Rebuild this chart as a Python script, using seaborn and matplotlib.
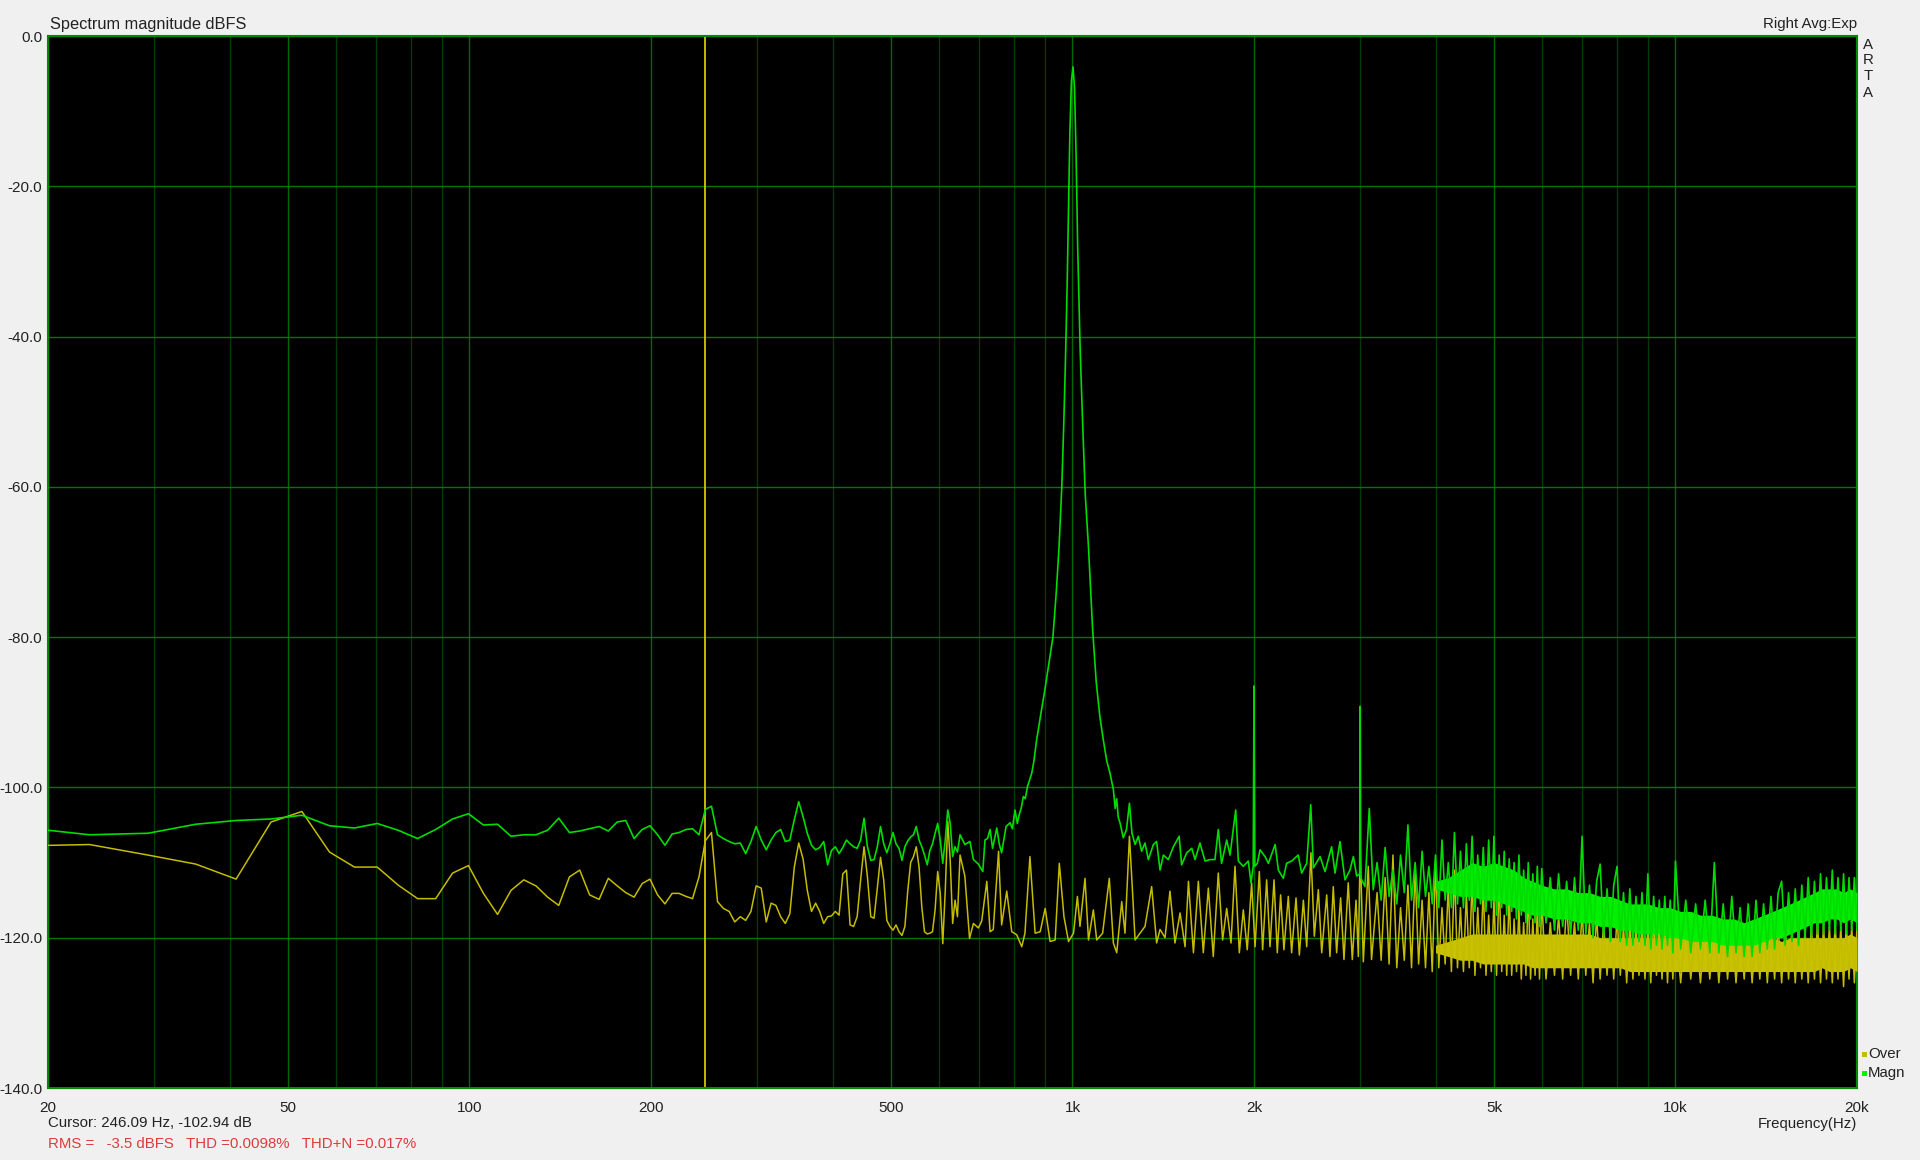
import numpy as np
import pandas as pd
import matplotlib
matplotlib.use('Agg')
import matplotlib.pyplot as plt
import seaborn as sns
from matplotlib.patches import Rectangle
from matplotlib.ticker import FixedLocator, FixedFormatter, NullFormatter

# FFT bins (48 kHz / 8192), values read per bin from 17.6 Hz to ~645 Hz
bin_hz = 48000 / 8192
first_bin = 3

magn_bins_db = [
    -105.2, -106.3, -106.1, -104.9, -104.4, -104.2, -103.7, -105.1, -105.4, -104.8,
    -105.7, -106.8, -105.6, -104.2, -103.5, -105.0, -104.9, -106.5, -106.3, -106.3,
    -105.7, -104.1, -106.0, -105.8, -105.5, -105.2, -105.8, -104.6, -104.4, -106.8,
    -105.6, -105.1, -106.3, -107.7, -106.2, -106.0, -105.6, -105.5, -106.3, -102.94,
    -102.5, -106.3, -106.8, -107.2, -107.5, -107.4, -108.8, -107.2, -105.2, -107.0,
    -108.3, -107.0, -106.0, -105.6, -107.2, -107.0, -104.3, -101.9, -103.9, -106.1,
    -107.7, -108.3, -108.0, -107.2, -110.3, -108.4, -107.9, -108.8, -108.0, -107.0,
    -107.5, -107.9, -108.1, -107.0, -104.1, -107.9, -109.7, -109.6, -107.9, -105.2,
    -107.5, -108.7, -107.5, -106.0, -107.5, -108.1, -109.7, -107.9, -107.1, -106.6,
    -106.3, -105.2, -107.0, -107.9, -109.0, -110.3, -108.4, -107.5, -106.1, -104.8,
    -107.0, -110.1, -107.0, -103.0, -104.8, -109.2, -107.9, -108.6,
]
over_bins_db = [
    -107.8, -107.6, -109.0, -110.2, -112.2, -104.6, -103.2, -108.6, -110.6, -110.6,
    -113.0, -114.8, -114.8, -111.4, -110.4, -114.1, -116.9, -113.7, -112.3, -113.1,
    -114.6, -115.7, -111.9, -111.0, -114.3, -114.9, -112.1, -113.1, -114.0, -114.6,
    -112.8, -112.2, -114.3, -115.5, -114.1, -114.1, -114.5, -114.8, -111.9, -107.1,
    -106.0, -115.2, -116.1, -116.5, -117.9, -117.2, -117.7, -116.5, -113.1, -113.4,
    -117.9, -115.4, -115.7, -117.2, -118.1, -116.8, -110.6, -107.4, -109.5, -113.7,
    -116.5, -115.4, -116.5, -118.1, -117.2, -117.1, -116.5, -117.0, -111.5, -111.0,
    -118.3, -118.5, -117.2, -112.3, -107.9, -111.9, -117.2, -117.4, -113.4, -109.3,
    -112.3, -117.7, -118.5, -119.0, -118.3, -119.2, -119.7, -118.5, -113.7, -110.0,
    -109.2, -107.9, -110.6, -115.9, -119.2, -119.5, -119.4, -119.2, -116.3, -111.2,
    -114.1, -120.8, -113.7, -104.5, -109.7, -118.1, -115.0, -117.2,
]

# Magn trace from 650 Hz to 3.2 kHz (turning points, incl. the 1 kHz tone)
magn_mid_hz = [
    651, 663, 676, 685, 698, 710, 716, 723, 730, 737, 749, 756, 763, 776, 788, 795,
    803, 810, 816, 822, 829, 835, 842, 849, 856, 863, 872, 885, 900, 914, 928, 940,
    950, 960, 967, 973, 980, 986, 990, 996, 1002, 1008, 1014, 1020, 1030, 1040, 1050,
    1063, 1080, 1095, 1110, 1125, 1140, 1154, 1169, 1177, 1184, 1191, 1199, 1214,
    1229, 1243, 1255, 1270, 1286, 1302, 1319, 1336, 1362, 1379, 1397, 1415, 1442,
    1470, 1503, 1517, 1547, 1577, 1597, 1627, 1659, 1691, 1723, 1745, 1767, 1802,
    1825, 1865, 1884, 1920, 1957, 1977, 1994, 2000, 2006, 2026, 2047, 2086, 2113,
    2168, 2195, 2237, 2265, 2309, 2368, 2399, 2446, 2484, 2509, 2574, 2623, 2690,
    2725, 2777, 2831, 2885, 2923, 2960, 2994, 3000, 3006, 3055, 3106, 3153,
]
magn_mid_db = [
    -106.3, -107.6, -107.2, -109.6, -110.2, -111.2, -107.0, -106.8, -105.6, -108.1,
    -105.4, -107.5, -108.7, -105.2, -104.7, -105.5, -103.0, -104.8, -103.6, -102.8,
    -101.2, -101.5, -99.9, -99.0, -98.1, -96.5, -93.7, -90.5, -87.0, -83.5, -80.0,
    -74.0, -68.0, -60.0, -52.0, -44.0, -33.0, -21.0, -13.0, -6.0, -4.1, -7.0, -16.0,
    -28.0, -42.0, -52.0, -61.0, -68.0, -79.0, -86.0, -90.5, -93.7, -96.5, -98.1,
    -100.3, -102.8, -101.5, -104.0, -104.7, -106.7, -105.6, -102.1, -106.1, -107.6,
    -106.5, -108.5, -107.4, -109.6, -107.6, -107.2, -111.0, -109.0, -109.6, -107.9,
    -106.5, -110.3, -108.7, -108.1, -109.6, -107.4, -109.8, -109.6, -109.6, -105.6,
    -110.1, -107.0, -109.0, -103.0, -109.8, -110.5, -109.8, -112.7, -110.5, -86.5,
    -110.5, -110.1, -108.3, -109.2, -110.1, -107.6, -111.0, -112.1, -110.1, -109.8,
    -109.0, -111.4, -110.1, -102.3, -110.7, -109.2, -111.2, -107.9, -111.4, -107.2,
    -112.3, -111.0, -109.2, -111.8, -111.5, -89.2, -112.0, -113.2, -102.8, -113.6,
]

# Over trace from 650 Hz to 3.2 kHz (comb peaks and troughs)
over_mid_hz = [
    651, 663, 675, 685, 698, 707, 721, 730, 739, 754, 763, 778, 793, 808, 824, 834,
    850, 867, 884, 901, 918, 936, 951, 968, 985, 1004, 1019, 1029, 1049, 1063, 1083,
    1097, 1122, 1151, 1169, 1184, 1207, 1222, 1243, 1256, 1270, 1294, 1319, 1353,
    1379, 1397, 1424, 1451, 1479, 1508, 1537, 1557, 1587, 1617, 1648, 1680, 1712,
    1745, 1774, 1802, 1832, 1860, 1891, 1920, 1949, 1982, 2008, 2041, 2067, 2099,
    2126, 2159, 2186, 2214, 2242, 2280, 2309, 2348, 2378, 2415, 2446, 2486, 2518,
    2557, 2590, 2640, 2673, 2707, 2742, 2784, 2820, 2866, 2911, 2953, 2979, 3000,
    3036, 3094, 3133,
]
over_mid_db = [
    -109.0, -111.8, -120.1, -118.1, -118.7, -117.8, -112.5, -119.2, -118.9, -108.5,
    -118.3, -113.8, -119.2, -119.6, -121.2, -119.4, -109.2, -119.4, -119.2, -116.1,
    -120.5, -120.3, -110.1, -117.2, -120.5, -119.4, -114.5, -118.5, -112.1, -120.3,
    -116.3, -120.3, -119.4, -112.1, -120.7, -122.0, -115.2, -119.4, -106.5, -113.0,
    -120.3, -119.4, -118.5, -113.2, -120.7, -118.9, -120.0, -113.8, -120.7, -116.7,
    -121.2, -112.5, -122.0, -112.5, -122.0, -113.4, -122.5, -111.4, -120.3, -116.1,
    -120.7, -110.5, -122.0, -116.3, -121.6, -112.7, -121.2, -111.2, -121.6, -112.3,
    -121.2, -112.3, -122.0, -114.3, -121.6, -114.5, -122.0, -114.7, -122.3, -115.0,
    -121.2, -108.7, -119.8, -113.6, -122.0, -114.3, -122.5, -113.2, -122.0, -114.7,
    -122.9, -112.7, -122.9, -115.0, -122.5, -107.9, -123.2, -110.5, -122.9,
]

# Dense part above 3.2 kHz: one value every 50 / 100 / 200 Hz
noise_hz = np.r_[np.arange(3200, 6000, 50), np.arange(6000, 10000, 100),
                 np.arange(10000, 20001, 200)]
magn_noise_db = [
    # 3200 - 5950
    -110, -115, -108, -114.5, -111, -115.5, -109, -114, -105, -115,
    -110, -116, -108.5, -114.5, -110.5, -115.5, -109, -116, -107, -115,
    -110, -116, -106, -115.5, -108.5, -116, -107.5, -115, -106.5, -116.5,
    -109, -115.5, -108, -116.5, -107, -116, -106.5, -117, -109, -116,
    -108.5, -117, -109.5, -116.5, -110, -117.5, -109, -117, -111, -118,
    -110, -117.5, -111.5, -118, -110.5, -118.5,
    # 6000 - 9900
    -110.8, -118, -112, -119, -111.5, -118.5, -112.5, -119.5, -112, -119,
    -106.5, -119.5, -113, -120, -112.5, -110.2, -120, -113.5, -120.5, -113,
    -110.5, -120.5, -114, -121, -113.5, -121, -114.5, -120.5, -114, -121,
    -111.5, -121.5, -114.5, -121, -115, -121.5, -114.5, -121, -115, -122,
    # 10000 - 20000
    -109.8, -121.5, -115, -122, -115.5, -121.5, -115, -122, -110, -122,
    -115.5, -122.5, -114.5, -122, -116, -122.5, -115.5, -122.5, -115, -122,
    -115.5, -121.5, -114.5, -121.5, -114, -112.5, -121, -114, -120.5, -113.5,
    -121, -113, -120, -112, -120, -112.5, -119.5, -111.5, -119.5, -112,
    -119, -111, -119.5, -112, -119, -111.5, -119.5, -112, -119, -112,
    -119,
]
over_noise_db = [
    # 3200 - 5950
    -114, -123, -112, -123.5, -109, -124, -116, -123, -113, -124,
    -111, -123.5, -115, -124, -114, -124.5, -110, -124, -116, -123.5,
    -113, -124.5, -111, -124, -116, -124.5, -114, -124, -112, -125,
    -116, -124, -113, -125, -117, -124.5, -115, -125, -112, -124.5,
    -117, -125, -114, -125, -117.5, -124.5, -116, -125.5, -118, -125,
    -113, -125.5, -117.5, -125, -116, -125.5,
    # 6000 - 9900
    -115, -125.5, -118, -125, -117, -125.5, -115, -125, -118, -125.5,
    -116.5, -125, -118, -126, -117, -125.5, -118, -125, -118.5, -125.5,
    -117, -125, -118.5, -126, -118, -125.5, -118.5, -125, -118, -125.5,
    -118.5, -126, -117.5, -125, -118.5, -125.5, -117.5, -126, -118.5, -125.5,
    # 10000 - 20000
    -118.5, -126, -118, -125.5, -119, -126, -118.5, -125.5, -118.5, -126,
    -119, -125.5, -118.5, -126, -119, -125.5, -118.5, -126, -119, -125.5,
    -118.5, -126, -119, -125.5, -118.5, -126, -118.5, -125.5, -119, -126,
    -118.5, -125.5, -119, -126, -118.5, -125.5, -118, -126, -118.5, -125.5,
    -118.5, -126, -118, -125.5, -118.5, -126.5, -118, -125.5, -118.5, -126,
    -118.5,
]

# solid core of each noise band (it fills in from about 4 kHz up)
band_hz = [
    4000, 4200, 4400, 4600, 4800, 5000, 5200, 5400, 5600,
    5800, 6000, 6300, 6600, 6900, 7200, 7500, 7800, 8100, 8400, 8700, 9000, 9400,
    9800, 10200, 10600, 11000, 11500, 12000, 12500, 13000, 13500, 14000, 14500,
    15000, 15500, 16000, 16500, 17000, 17500, 18000, 18500, 19000, 19500, 20000,
]
magn_top = [
    -112.5, -112.0, -111.0, -110.0, -110.5, -110.0,
    -110.5, -111.0, -112.0, -112.5, -113.0, -113.5, -113.5, -114.0, -114.0, -114.5,
    -114.5, -115.0, -115.5, -115.5, -115.5, -116.0, -116.0, -116.5, -116.5, -117.0,
    -117.0, -117.5, -117.5, -118.0, -117.5, -117.0, -116.5, -116.0, -115.5, -115.0,
    -114.5, -114.0, -113.5, -113.5, -113.5, -114.0, -113.5, -114.0,
]
magn_bot = [
    -113.5, -114.0, -114.5, -114.5, -115.0, -115.0,
    -115.5, -116.0, -116.5, -117.0, -117.0, -117.5, -117.5, -118.0, -118.0, -118.5,
    -118.5, -119.0, -119.0, -119.5, -119.5, -119.5, -120.0, -120.0, -120.5, -120.5,
    -120.5, -121.0, -121.0, -121.0, -121.0, -120.5, -120.0, -120.0, -119.5, -119.0,
    -118.5, -118.0, -118.0, -117.5, -117.5, -118.0, -117.5, -118.0,
]
over_top = [
    -121.0, -120.5, -120.0, -119.5, -119.5, -119.5,
    -119.5, -119.5, -119.5, -119.5, -119.5, -119.5, -119.5, -119.5, -119.5, -120.0,
    -120.0, -120.0, -120.0, -120.0, -120.0, -120.0, -120.0, -120.0, -120.0, -120.0,
    -120.0, -120.0, -120.0, -120.5, -120.5, -120.5, -120.0, -120.5, -120.0, -120.0,
    -120.0, -120.0, -120.0, -120.0, -120.0, -120.0, -119.5, -120.0,
]
over_bot = [
    -122.0, -122.5, -123.0, -123.0, -123.5, -123.5,
    -123.5, -123.5, -123.5, -124.0, -124.0, -124.0, -124.0, -124.0, -124.0, -124.0,
    -124.0, -124.0, -124.5, -124.5, -124.5, -124.5, -124.5, -124.5, -124.5, -124.5,
    -124.5, -124.5, -124.5, -124.5, -124.5, -124.5, -124.5, -124.5, -124.5, -124.5,
    -124.5, -124.5, -124.0, -124.5, -124.5, -124.5, -124.0, -124.5,
]

cursor_hz = 246.09
major_hz = [20, 50, 100, 200, 500, 1000, 2000, 5000, 10000, 20000]
major_lbl = ['20', '50', '100', '200', '500', '1k', '2k', '5k', '10k', '20k']
minor_hz = [30, 40, 60, 70, 80, 90, 300, 400, 600, 700, 800, 900,
            3000, 4000, 6000, 7000, 8000, 9000]
db_ticks = [0, -20, -40, -60, -80, -100, -120, -140]

GREEN = '#00dc00'
GREEN_BAND = '#00f000'
YELLOW = '#c4bc00'
YELLOW_BAND = '#c8c200'

sns.set_theme(style='dark')
plt.rcParams['font.family'] = ['Liberation Sans', 'DejaVu Sans']
plt.rcParams['axes.unicode_minus'] = False

k = np.arange(first_bin, first_bin + len(magn_bins_db))
magn = pd.DataFrame({'hz': np.r_[k * bin_hz, magn_mid_hz, noise_hz],
                     'db': np.r_[magn_bins_db, magn_mid_db, magn_noise_db]})
over = pd.DataFrame({'hz': np.r_[k * bin_hz, over_mid_hz, noise_hz],
                     'db': np.r_[over_bins_db, over_mid_db, over_noise_db]})

W, H = 1920, 1160
fig = plt.figure(figsize=(W / 100, H / 100), dpi=100, facecolor='#f0f0f0')
ax = fig.add_axes([48 / W, 1 - 1088 / H, (1857 - 48) / W, (1088 - 36) / H])
ax.set_facecolor('black')
ax.set_xscale('log')

# yellow "Over" trace
ax.fill_between(band_hz, over_bot, over_top, color=YELLOW_BAND, lw=0, zorder=3)
sns.lineplot(data=over, x='hz', y='db', ax=ax, color=YELLOW, lw=1.1,
             estimator=None, sort=False, legend=False, zorder=3)

# green "Magn" trace
ax.fill_between(band_hz, magn_bot, magn_top, color=GREEN_BAND, lw=0, zorder=4)
sns.lineplot(data=magn, x='hz', y='db', ax=ax, color=GREEN, lw=1.2,
             estimator=None, sort=False, legend=False, zorder=4)

ax.axvline(cursor_hz, color='#d2c800', lw=1.3, zorder=2)

ax.set_xlim(20, 20000)
ax.set_ylim(-140, 0)
ax.xaxis.set_major_locator(FixedLocator(major_hz))
ax.xaxis.set_major_formatter(FixedFormatter(major_lbl))
ax.xaxis.set_minor_locator(FixedLocator(minor_hz))
ax.xaxis.set_minor_formatter(NullFormatter())
ax.yaxis.set_major_locator(FixedLocator(db_ticks))
ax.yaxis.set_major_formatter(FixedFormatter([f'{v:.1f}' for v in db_ticks]))
ax.set_xlabel('')
ax.set_ylabel('')

ax.grid(True, which='major', axis='x', color='#006a00', lw=1.0, zorder=1)
ax.grid(True, which='minor', axis='x', color='#003c00', lw=1.0, zorder=1)
ax.grid(True, which='major', axis='y', color='#007800', lw=1.0, zorder=1)
ax.set_axisbelow(True)
ax.tick_params(axis='both', which='both', length=0, labelsize=11, colors='#222222')
ax.tick_params(axis='x', pad=9)
ax.tick_params(axis='y', pad=4)
for s in ax.spines.values():
    s.set_color('#008a00')
    s.set_linewidth(1.5)
    s.set_visible(True)

txt = dict(color='#222222', fontsize=10.8)
fig.text(50 / W, 1 - 24 / H, 'Spectrum magnitude dBFS', ha='left', va='center',
         color='#222222', fontsize=11.8)
fig.text(1857 / W, 1 - 24 / H, 'Right Avg:Exp', ha='right', va='center', **txt)
for ch, yy in zip('ARTA', [45, 60, 76, 93]):
    fig.text(1868 / W, 1 - yy / H, ch, ha='center', va='center', **txt)
fig.text(48 / W, 1 - 1123 / H, 'Cursor: 246.09 Hz, -102.94 dB', ha='left', va='center', **txt)
fig.text(48 / W, 1 - 1144 / H, 'RMS =   -3.5 dBFS   THD =0.0098%   THD+N =0.017%',
         ha='left', va='center', color='#dc3c3c', fontsize=10.8)
fig.text(1857 / W, 1 - 1124 / H, 'Frequency(Hz)', ha='right', va='center', **txt)

for lbl, col, yy in [('Over', YELLOW, 1054), ('Magn', GREEN_BAND, 1073)]:
    fig.patches.append(Rectangle(((1862) / W, 1 - (yy + 2.5) / H), 5 / W, 5 / H,
                                 transform=fig.transFigure, color=col, lw=0))
    fig.text(1868 / W, 1 - yy / H, lbl, ha='left', va='center', **txt)

fig.savefig('out.png', dpi=100, facecolor=fig.get_facecolor())
